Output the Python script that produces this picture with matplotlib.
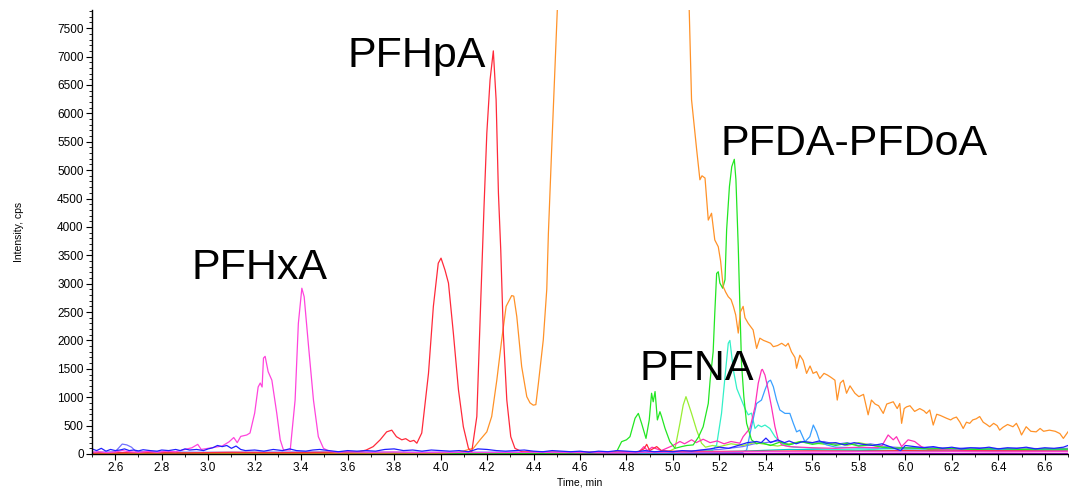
import matplotlib
matplotlib.use("Agg")
import matplotlib.pyplot as plt
from matplotlib.ticker import MultipleLocator

plt.rcParams['font.family'] = ['Liberation Sans', 'DejaVu Sans']

# ---------------- data (time in min, intensity in cps) ----------------
pfhxa_t = [2.50, 2.53, 2.56, 2.60, 2.63, 2.66, 2.70, 2.74, 2.78, 2.82, 2.86, 2.90, 2.93, 2.955, 2.97,
           3.00, 3.03, 3.06, 3.09, 3.11, 3.125, 3.14, 3.166, 3.18, 3.20, 3.215, 3.224, 3.232, 3.238,
           3.245, 3.258, 3.274, 3.295, 3.31, 3.324, 3.353, 3.374, 3.388, 3.403, 3.413, 3.432, 3.453,
           3.474, 3.496, 3.52, 3.56, 3.60, 3.70, 3.80, 3.90, 4.00, 4.20, 4.40, 4.60, 4.80, 5.00,
           5.20, 5.40, 5.60, 5.80, 6.00, 6.20, 6.40, 6.70]
pfhxa_y = [30, 40, 25, 35, 60, 40, 30, 45, 30, 50, 40, 80, 110, 170, 80,
           100, 120, 140, 215, 290, 200, 310, 335, 370, 720, 1180, 1250, 1180, 1690,
           1720, 1450, 1300, 720, 250, 70, 70, 950, 2300, 2920, 2770, 1890, 950,
           305, 100, 50, 30, 40, 30, 35, 25, 30, 25, 30, 25, 30, 30,
           35, 40, 35, 40, 35, 40, 35, 40]

pfhpa_t = [2.50, 2.70, 2.90, 3.10, 3.30, 3.50, 3.65, 3.68, 3.71, 3.74, 3.768, 3.79, 3.81, 3.833,
           3.85, 3.869, 3.885, 3.898, 3.919, 3.948, 3.969, 3.99, 4.002, 4.019, 4.034, 4.055, 4.077,
           4.098, 4.12, 4.134, 4.156, 4.173, 4.187, 4.199, 4.213, 4.227, 4.239, 4.249, 4.259, 4.27,
           4.285, 4.302, 4.32, 4.35, 4.50, 4.70, 4.85, 4.875, 4.887, 4.90, 4.93, 4.95, 5.00, 5.20,
           5.40, 5.60, 5.80, 6.00, 6.20, 6.40, 6.70]
pfhpa_y = [20, 25, 20, 30, 25, 30, 40, 70, 130, 250, 390, 420, 305, 250,
           270, 220, 240, 190, 370, 1420, 2600, 3360, 3450, 3240, 3010, 2130, 1130,
           480, 100, 35, 660, 2710, 4360, 5650, 6590, 7100, 6240, 4590, 3590, 2130,
           950, 305, 100, 40, 30, 30, 40, 90, 170, 60, 130, 60, 50, 45,
           50, 55, 50, 60, 50, 55, 50]

orange_t = [2.50, 3.00, 3.50, 4.00, 4.08, 4.113, 4.141, 4.17, 4.199, 4.22, 4.242, 4.263, 4.282,
            4.306, 4.315, 4.328, 4.349, 4.371, 4.385, 4.399, 4.41, 4.421, 4.442, 4.457, 4.464,
            4.478, 4.492, 4.51, 4.60, 4.80, 5.00, 5.06, 5.07, 5.08, 5.102, 5.116, 5.125, 5.138,
            5.152, 5.166, 5.18, 5.195, 5.205, 5.216, 5.227, 5.238, 5.25, 5.26, 5.27, 5.281, 5.29,
            5.302, 5.31, 5.324, 5.345, 5.36, 5.374, 5.39, 5.403, 5.42, 5.432, 5.45, 5.468, 5.485,
            5.496, 5.51, 5.525, 5.532, 5.546, 5.56, 5.575, 5.59, 5.603, 5.618, 5.632, 5.65, 5.665,
            5.68, 5.697, 5.707, 5.72, 5.733, 5.747, 5.762, 5.783, 5.80, 5.82, 5.84, 5.854, 5.87,
            5.885, 5.905, 5.92, 5.948, 5.965, 5.976, 5.984, 5.995, 6.005, 6.02, 6.04, 6.062, 6.08,
            6.091, 6.105, 6.12, 6.135, 6.15, 6.177, 6.195, 6.206, 6.22, 6.235, 6.249, 6.263, 6.277,
            6.29, 6.305, 6.32, 6.335, 6.35, 6.363, 6.38, 6.395, 6.406, 6.42, 6.44, 6.463, 6.478,
            6.49, 6.50, 6.52, 6.54, 6.563, 6.58, 6.595, 6.62, 6.645, 6.665, 6.68, 6.70]
orange_y = [10, 15, 12, 15, 30, 70, 100, 250, 390, 660, 1300, 2010, 2600,
            2790, 2780, 2420, 1540, 1010, 900, 860, 870, 1245, 2010, 2900, 3890,
            5360, 6770, 8600, 12000, 14000, 10000, 8100, 7820, 6240, 5360, 4830, 4900, 4860,
            4120, 4240, 3770, 3650, 3400, 2950, 2850, 2770, 2720, 2600, 2450, 2130, 2500,
            2600, 2400, 2300, 2185, 1860, 2040, 2000, 1980, 1950, 1890, 1910, 1950, 1900,
            1950, 1800, 1700, 1510, 1740, 1650, 1420, 1550, 1420, 1450, 1330, 1420, 1390,
            1350, 1300, 950, 1250, 1300, 1070, 1200, 1070, 1010, 1050, 690, 950, 880,
            850, 715, 880, 920, 800, 890, 540, 800, 830, 850, 750, 800, 760,
            715, 775, 510, 700, 680, 630, 600, 630, 650, 560, 450, 560, 540,
            600, 620, 660, 560, 520, 480, 540, 500, 420, 470, 520, 480, 540,
            440, 335, 480, 400, 390, 450, 400, 420, 400, 360, 275, 390]

pfda_t = [2.50, 2.80, 3.10, 3.40, 3.70, 4.00, 4.30, 4.60, 4.74, 4.76, 4.779, 4.80, 4.815, 4.837,
          4.851, 4.865, 4.884, 4.898, 4.908, 4.915, 4.923, 4.933, 4.944, 4.951, 4.966, 4.987,
          5.009, 5.037, 5.06, 5.087, 5.11, 5.13, 5.152, 5.16, 5.173, 5.18, 5.188, 5.195, 5.202,
          5.214, 5.224, 5.231, 5.243, 5.253, 5.264, 5.271, 5.281, 5.288, 5.295, 5.305, 5.317,
          5.338, 5.36, 5.38, 5.42, 5.46, 5.50, 5.55, 5.60, 5.65, 5.70, 5.75, 5.80, 5.85, 5.90,
          5.95, 6.00, 6.10, 6.20, 6.30, 6.40, 6.50, 6.60, 6.70]
pfda_y = [10, 12, 10, 12, 10, 12, 10, 15, 30, 60, 217, 250, 305, 630,
          715, 540, 275, 600, 1070, 920, 1100, 600, 745, 660, 450, 215,
          100, 130, 150, 160, 300, 480, 890, 1300, 1800, 2480, 3180, 3210, 3010,
          2920, 3070, 3950, 4710, 5060, 5190, 4830, 3650, 2600, 1600, 1010, 540,
          250, 180, 200, 150, 210, 160, 220, 170, 200, 150, 190, 140, 160, 120,
          100, 110, 90, 100, 80, 95, 80, 90, 85]

yg_t = [2.50, 3.00, 3.50, 4.00, 4.50, 4.90, 4.98, 5.009, 5.03, 5.044, 5.056, 5.066, 5.08, 5.102,
        5.123, 5.14, 5.17, 5.20, 5.25, 5.30, 5.35, 5.40, 5.45, 5.50, 5.55, 5.60, 5.65, 5.70,
        5.75, 5.80, 5.85, 5.90, 6.00, 6.10, 6.20, 6.30, 6.40, 6.50, 6.60, 6.70]
yg_y = [15, 12, 15, 12, 15, 20, 40, 100, 540, 860, 1010, 890, 715, 420,
        190, 120, 150, 130, 180, 150, 200, 170, 140, 180, 220, 200, 170, 190,
        150, 200, 160, 120, 90, 100, 80, 90, 70, 85, 70, 80]

aqua_t = [2.50, 3.00, 3.50, 4.00, 4.50, 5.00, 5.17, 5.188, 5.209, 5.224, 5.238, 5.245, 5.26,
          5.275, 5.29, 5.31, 5.324, 5.338, 5.353, 5.367, 5.381, 5.396, 5.417, 5.439, 5.46, 5.48,
          5.52, 5.60, 5.70, 5.80, 5.90, 6.00, 6.20, 6.40, 6.70]
aqua_y = [15, 12, 15, 12, 15, 20, 60, 160, 715, 1360, 1950, 2000, 1480,
          1150, 1000, 800, 690, 720, 450, 510, 480, 510, 450, 305, 220, 150,
          120, 100, 80, 90, 70, 60, 55, 60, 50]

pink_t = [2.50, 3.00, 3.50, 4.00, 4.50, 4.85, 4.875, 4.89, 4.91, 4.95, 5.00, 5.03, 5.05, 5.08,
          5.10, 5.13, 5.16, 5.19, 5.22, 5.25, 5.288, 5.302, 5.331, 5.353, 5.367, 5.381, 5.385,
          5.396, 5.41, 5.424, 5.439, 5.453, 5.468, 5.50, 5.60, 5.70, 5.80, 5.88, 5.90, 5.926,
          5.948, 5.962, 5.984, 6.012, 6.04, 6.069, 6.10, 6.30, 6.50, 6.70]
pink_y = [15, 12, 15, 12, 15, 20, 130, 60, 120, 60, 150, 220, 180, 250,
          200, 260, 200, 230, 180, 220, 190, 305, 450, 830, 1245, 1480, 1490,
          1390, 1130, 830, 480, 250, 160, 130, 110, 100, 120, 110, 150, 335,
          250, 305, 130, 250, 220, 130, 80, 60, 50, 45]

lblue_t = [2.50, 3.00, 3.50, 4.00, 4.50, 5.00, 5.30, 5.317, 5.338, 5.36, 5.381, 5.396, 5.41,
           5.42, 5.432, 5.446, 5.46, 5.482, 5.503, 5.518, 5.532, 5.546, 5.568, 5.589, 5.604,
           5.618, 5.632, 5.661, 5.70, 5.80, 5.90, 6.00, 6.20, 6.40, 6.70]
lblue_y = [10, 12, 10, 12, 10, 15, 30, 70, 480, 890, 950, 1130, 1275,
           1300, 1185, 950, 775, 715, 715, 540, 390, 420, 215, 305, 510,
           390, 215, 160, 120, 110, 100, 90, 85, 80, 75]

blue_t = [2.50, 2.52, 2.54, 2.56, 2.58, 2.60, 2.62, 2.64, 2.66, 2.68, 2.70, 2.72, 2.75, 2.78, 2.80,
          2.83, 2.86, 2.88, 2.90, 2.92, 2.95, 2.98, 3.00, 3.02, 3.04, 3.06, 3.08, 3.10, 3.12, 3.14,
          3.16, 3.20, 3.24, 3.28, 3.32, 3.35, 3.38, 3.42, 3.45, 3.48, 3.52, 3.56, 3.60, 3.64, 3.68,
          3.72, 3.76, 3.80, 3.84, 3.88, 3.92, 3.96, 4.00, 4.04, 4.08, 4.12, 4.16, 4.20, 4.24, 4.28,
          4.32, 4.36, 4.40, 4.44, 4.48, 4.52, 4.56, 4.60, 4.64, 4.68, 4.72, 4.76, 4.80, 4.84, 4.88,
          4.92, 4.96, 5.00, 5.04, 5.08, 5.12, 5.16, 5.20, 5.24, 5.28, 5.32, 5.36, 5.38, 5.40, 5.42,
          5.45, 5.48, 5.50, 5.53, 5.56, 5.60, 5.63, 5.66, 5.70, 5.74, 5.78, 5.82, 5.86, 5.90, 5.94,
          5.98, 6.00, 6.04, 6.08, 6.12, 6.16, 6.20, 6.24, 6.28, 6.32, 6.36, 6.40, 6.44, 6.48, 6.52,
          6.56, 6.60, 6.64, 6.68, 6.70]
blue_y = [90, 60, 100, 50, 80, 60, 70, 90, 60, 70, 55, 75, 60, 50, 70,
          60, 80, 60, 90, 70, 80, 60, 90, 110, 150, 130, 150, 100, 140, 80,
          60, 70, 50, 80, 60, 90, 60, 50, 70, 80, 60, 40, 60, 50, 60,
          50, 80, 90, 60, 70, 50, 70, 60, 50, 60, 40, 90, 80, 60, 50,
          60, 70, 50, 40, 60, 50, 40, 50, 30, 50, 40, 60, 50, 40, 60,
          40, 50, 40, 60, 50, 70, 90, 120, 100, 150, 200, 220, 200, 280, 200,
          250, 200, 230, 180, 220, 200, 230, 190, 200, 160, 200, 170, 150, 180, 120,
          60, 150, 130, 110, 130, 100, 120, 90, 110, 100, 120, 90, 110, 100, 120,
          90, 110, 100, 120, 150]

violet_t = [2.50, 2.58, 2.60, 2.62, 2.63, 2.65, 2.67, 2.69, 2.80, 3.00, 3.50, 4.00, 4.50, 5.00,
            5.20, 5.30, 5.35, 5.40, 5.45, 5.50, 5.55, 5.60, 5.65, 5.70, 5.75, 5.80, 5.85, 5.90,
            5.95, 6.00, 6.10, 6.20, 6.30, 6.40, 6.50, 6.60, 6.70]
violet_y = [30, 35, 40, 130, 175, 160, 120, 40, 35, 30, 35, 30, 35, 40,
            80, 130, 180, 200, 230, 170, 210, 190, 220, 170, 200, 150, 180, 140,
            120, 110, 120, 100, 110, 95, 105, 90, 100]

teal_t = [2.50, 3.00, 3.50, 4.00, 4.50, 5.00, 5.30, 5.50, 5.70, 5.90, 6.10, 6.30, 6.50, 6.70]
teal_y = [20, 18, 20, 18, 20, 25, 50, 80, 70, 60, 55, 50, 55, 50]

purple_t = [2.50, 3.50, 4.50, 5.50, 6.70]
purple_y = [5, 5, 5, 8, 5]

# ---------------- plot ----------------
fig = plt.figure(figsize=(10.69, 4.91), dpi=100)
ax = fig.add_axes([92 / 1069, 37 / 491, 976 / 1069, 444 / 491])

lw = 0.9
ax.plot(purple_t, purple_y, color='#9900CC', lw=lw)
ax.plot(teal_t, teal_y, color='#00C8C8', lw=lw)
ax.plot(violet_t, violet_y, color='#7070FF', lw=lw)
ax.plot(yg_t, yg_y, color='#99EE33', lw=lw)
ax.plot(aqua_t, aqua_y, color='#33F0C8', lw=lw)
ax.plot(lblue_t, lblue_y, color='#3AA0FF', lw=lw)
ax.plot(pink_t, pink_y, color='#FF30B8', lw=lw)
ax.plot(pfda_t, pfda_y, color='#22E622', lw=lw)
ax.plot(orange_t, orange_y, color='#FF9228', lw=lw)
ax.plot(pfhpa_t, pfhpa_y, color='#FF2A3A', lw=lw)
ax.plot(pfhxa_t, pfhxa_y, color='#FF44DD', lw=lw)
ax.plot(blue_t, blue_y, color='#2020FF', lw=lw)

ax.set_xlim(2.5, 6.7)
ax.set_ylim(0, 7820)

for s in ['top', 'right']:
    ax.spines[s].set_visible(False)
for s in ['left', 'bottom']:
    ax.spines[s].set_linewidth(1.0)
    ax.spines[s].set_color('black')

ax.xaxis.set_major_locator(MultipleLocator(0.2))
ax.xaxis.set_minor_locator(MultipleLocator(0.1))
ax.yaxis.set_major_locator(MultipleLocator(500))
ax.yaxis.set_minor_locator(MultipleLocator(100))
ax.xaxis.set_major_formatter(plt.FuncFormatter(lambda v, p: f"{v:.1f}"))
ax.tick_params(axis='both', which='major', direction='out', length=4, width=0.8,
               labelsize=8.5, pad=2)
ax.tick_params(axis='both', which='minor', direction='out', length=2, width=0.6)

ax.set_xlabel('Time, min', fontsize=7.5, labelpad=2)
ax.set_ylabel('Intensity, cps', fontsize=7.5, labelpad=24)

lab_kw = dict(fontsize=31, color='black', ha='left', va='baseline')
ax.text(2.928, 3084, 'PFHxA', **lab_kw)
ax.text(3.598, 6819, 'PFHpA', **lab_kw)
ax.text(5.205, 5268, 'PFDA-PFDoA', **lab_kw)
ax.text(4.858, 1304, 'PFNA', **lab_kw)

fig.savefig('out.png', dpi=100)
